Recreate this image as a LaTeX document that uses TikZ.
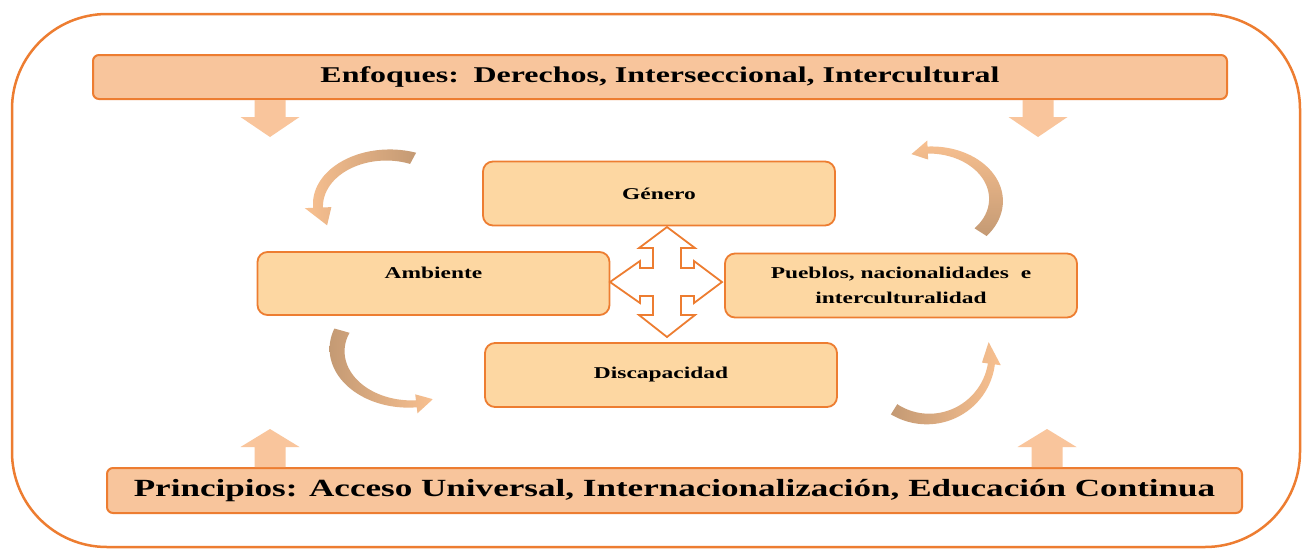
\documentclass[tikz,border=0pt]{standalone}
\usepackage{fontspec}
\setmainfont{Liberation Serif}[FakeStretch=1.42]
\definecolor{org}{HTML}{ED7D31}
\definecolor{barfill}{HTML}{F8C59C}
\definecolor{boxfill}{HTML}{FDD7A2}
\definecolor{arrfill}{HTML}{F9C59C}
\definecolor{arrdark}{HTML}{C49A74}
\definecolor{arrlight}{HTML}{F8C090}
\def\wa{12}\def\wb{7}\def\hw{9.5}\def\tipin{2}
\newcommand{\curvarr}[8]{%
 \begin{scope}[shift={(#1,#2)},xscale=#4]
 \shade[#8] plot[domain=#5:#6,samples=40,variable=\t]
   ({(#3+\wa/2+(\wb-\wa)/2*(\t-#5)/(#6-#5))*cos(\t)},{(#3+\wa/2+(\wb-\wa)/2*(\t-#5)/(#6-#5))*sin(\t)})
   -- ({(#3+\hw)*cos(#6)},{(#3+\hw)*sin(#6)})
   -- ({(#3-\tipin)*cos(#7)},{(#3-\tipin)*sin(#7)})
   -- ({(#3-\hw)*cos(#6)},{(#3-\hw)*sin(#6)})
   -- plot[domain=#6:#5,samples=40,variable=\t]
   ({(#3-\wa/2-(\wb-\wa)/2*(\t-#5)/(#6-#5))*cos(\t)},{(#3-\wa/2-(\wb-\wa)/2*(\t-#5)/(#6-#5))*sin(\t)})
   -- cycle;
 \end{scope}}
\begin{document}
\begin{tikzpicture}[x=1pt,y=-1pt,
  bar/.style={draw=org, line width=2pt, fill=barfill, rounded corners=6pt, minimum height=44pt, inner sep=0pt},
  box/.style={draw=org, line width=1.8pt, fill=boxfill, rounded corners=10pt, minimum width=352pt, minimum height=64pt, align=center, inner sep=0pt, font=\bfseries\fontsize{16.5}{25}\selectfont},
  boxtext/.style={font=\bfseries\fontsize{16.5}{25}\selectfont, inner sep=0pt},
  downarr/.pic={\fill[arrfill] (-15.5,0) -- (15.5,0) -- (15.5,17) -- (29.5,17) -- (0,37) -- (-29.5,17) -- (-15.5,17) -- cycle;},
  uparr/.pic={\fill[arrfill] (-15.5,0) -- (15.5,0) -- (15.5,-20) -- (29.5,-20) -- (0,-38) -- (-29.5,-20) -- (-15.5,-20) -- cycle;}
]
\useasboundingbox (0,0) rectangle (1304,550);
% outer frame
\draw[org, line width=2.5pt, fill=white, rounded corners=95pt] (12,14) rectangle (1300,547);

% bars
\node[bar, minimum width=1134pt, font=\bfseries\fontsize{22.5}{26}\selectfont] (enf) at (660,77)
  {Enfoques:\hspace{4pt} Derechos, Interseccional, Intercultural};
\node[bar, minimum width=1135pt, minimum height=45pt, font=\bfseries\fontsize{24.7}{28}\selectfont] (pri) at (674.5,490.5)
  {Principios: Acceso Universal, Internacionalización, Educación Continua};

% block arrows from/to bars
\pic at (270,100) {downarr};
\pic at (1038,100) {downarr};
\pic at (270,467) {uparr};
\pic at (1047,467) {uparr};

% boxes
\node[box] (gen) at (659,193.5) {Género};
\node[box, minimum height=63pt] (amb) at (433.5,283.5) {};
\node[boxtext] (ambt) at (433.5,273) {Ambiente};
\node[box] (pue) at (901,285.5) {Pueblos, nacionalidades\hspace{6pt} e\\interculturalidad};
\node[box] (dis) at (661,375) {Discapacidad};

% four-way arrow
\draw[org, line width=1.8pt, fill=white, line join=miter]
  (667,227) -- (695,248) -- (681,248) -- (681,268) -- (694,268) -- (694,261) -- (722,282)
  -- (694,303) -- (694,296) -- (681,296) -- (681,315) -- (695,315) -- (667,337)
  -- (639,315) -- (653,315) -- (653,296) -- (640,296) -- (640,303) -- (610,282)
  -- (640,261) -- (640,268) -- (653,268) -- (653,248) -- (639,248) -- cycle;

% curved arrows
\curvarr{388}{205}{50}{1.4}{-69}{-183}{-205}{left color=arrlight, right color=arrdark}
\curvarr{930}{200}{50}{1.32}{40}{-92}{-107}{top color=arrlight, bottom color=arrdark}
\curvarr{410}{350}{54}{1.35}{-159}{-275}{-289}{left color=arrdark, right color=arrlight}
\curvarr{928}{355}{64}{1.0}{122}{8}{-12}{left color=arrdark, right color=arrlight}
\end{tikzpicture}
\end{document}
